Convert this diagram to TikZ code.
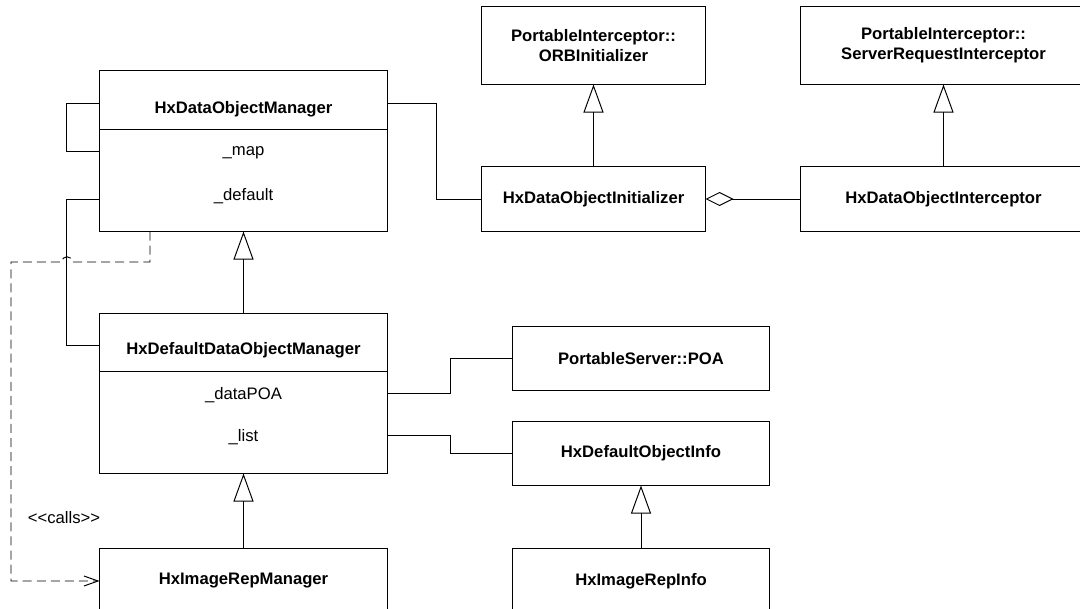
\documentclass[tikz,border=0pt]{standalone}
\usepackage{fontspec}
\setmainfont{Liberation Sans}
\usetikzlibrary{arrows.meta}

\newcommand\diagfont{\fontsize{11.85}{14.2}\selectfont}

\tikzset{
  cls/.style={draw, inner sep=0pt, align=center, font=\diagfont\bfseries},
  ttl/.style={inner sep=0pt, font=\diagfont\bfseries},
  attr/.style={inner sep=0pt, font=\diagfont},
  gen/.style={-{Triangle[open, length=0.7cm, width=0.5cm]}},
  agg/.style={-{Diamond[open, length=0.7cm, width=0.35cm]}},
  calls/.style={dash pattern=on 6.4pt off 3.6pt, -{Straight Barb[length=0.35cm, width=0.25cm]}},
}

\begin{document}
\begin{tikzpicture}[x=0.025cm, y=-0.025cm, line width=0.7pt]
    \useasboundingbox (0,0) rectangle (1080,609);
    \clip (0,0) rectangle (1080,609);
    % managers
    \node[cls, minimum width=7.175cm, minimum height=4cm] (mgr) at (243.5,151) {};
    \node[ttl] (mgrname) at (243.5,109) {HxDataObjectManager};
    \node[attr] (mgrmap) at (243.5,153) {\_map};
    \node[attr] (mgrdflt) at (243.5,196) {\_default};
    \draw (mgr.west |- 0,129) -- (mgr.east |- 0,129);
    \node[cls, minimum width=7.175cm, minimum height=3.975cm] (defmgr) at (243.5,393.5) {};
    \node[ttl] (defmgrname) at (243.5,350) {HxDefaultDataObjectManager};
    \node[attr] (defmgrpoa) at (243.5,395) {\_dataPOA};
    \node[attr] (defmgrlist) at (243.5,437) {\_list};
    \draw (defmgr.west |- 0,371) -- (defmgr.east |- 0,371);
    \node[cls, minimum width=7.175cm, minimum height=1.6cm] (imgmgr) at (243.5,581) {HxImageRepManager};
    % interceptors
    \node[cls, minimum width=5.575cm, minimum height=1.925cm] (orbinit) at (593.5,45.5) {PortableInterceptor::\\ORBInitializer};
    \node[cls, minimum width=5.575cm, minimum height=1.6cm] (dinit) at (593.5,199) {HxDataObjectInitializer};
    \node[cls, minimum width=7.125cm, minimum height=1.925cm] (srvint) at (943.5,45.5) {PortableInterceptor::\\ServerRequestInterceptor};
    \node[cls, minimum width=7.125cm, minimum height=1.6cm] (dintc) at (943.5,199) {HxDataObjectInterceptor};
    % poa and infos
    \node[cls, minimum width=6.4cm, minimum height=1.575cm] (poa) at (641,358.5) {PortableServer::POA};
    \node[cls, minimum width=6.4cm, minimum height=1.575cm] (dinfo) at (641,453.5) {HxDefaultObjectInfo};
    \node[cls, minimum width=6.4cm, minimum height=1.6cm] (imginfo) at (641,581) {HxImageRepInfo};
    \node[attr] (callslbl) at (64,518) {{<}{<}calls{>}{>}};
    % inheritance
    \draw[gen] (defmgr.north) -- (mgr.south);
    \draw[gen] (imgmgr.north) -- (defmgr.south);
    \draw[gen] (dinit.north) -- (orbinit.south);
    \draw[gen] (dintc.north) -- (srvint.south);
    \draw[gen] (imginfo.north) -- (dinfo.south);
    % associations
    \draw (mgr.west |- 0,103) -- ++(-33,0) |- (mgr.west |- 0,151);
    \draw (mgr.west |- 0,199) -- ++(-33,0) |- (defmgr.west |- 0,345);
    \draw (mgr.east |- 0,103) -- ++(49,0) |- (dinit.west);
    \draw[agg] (dintc.west) -- (dinit.east);
    \draw (defmgr.east |- 0,393) -- ++(63,0) |- (poa.west);
    \draw (defmgr.east |- 0,435) -- ++(63,0) |- (dinfo.west);
    \draw[calls] (mgr.south -| 150,0) -- (150,262) -- (72,262) .. controls (72,255) and (62,255) .. (62,262) -- (11,262) |- (imgmgr.west); %
  \end{tikzpicture}
\end{document}
